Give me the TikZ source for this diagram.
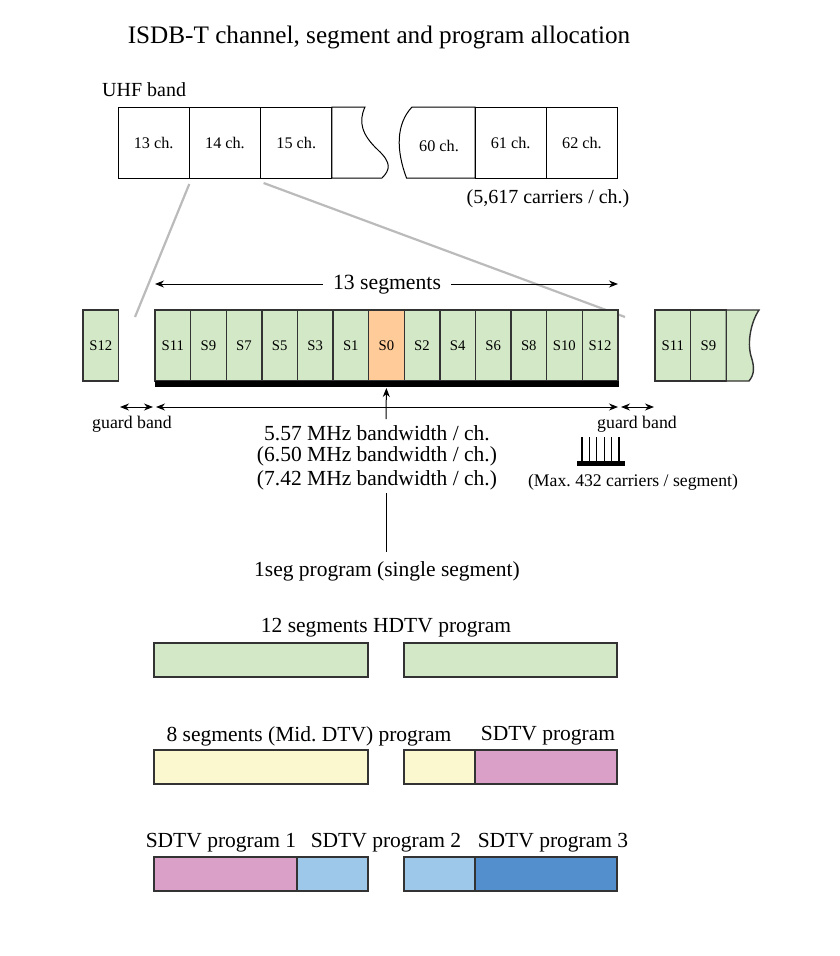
\documentclass[tikz,border=0pt]{standalone}
\usepackage{fontspec}
\setmainfont{Liberation Serif}
\usetikzlibrary{arrows.meta}
\definecolor{sgreen}{HTML}{D2E8C6}
\definecolor{sorange}{HTML}{FFCC99}
\definecolor{syellow}{HTML}{FBF8D0}
\definecolor{spink}{HTML}{DBA0C8}
\definecolor{slblue}{HTML}{9EC8EA}
\definecolor{sblue}{HTML}{538FCC}
\definecolor{bord}{HTML}{333333}
\definecolor{projgray}{HTML}{BBBBBB}
\frenchspacing
\tikzset{
  fs/.style={font=\fontsize{#1}{#1}\selectfont},
  txt/.style={inner sep=0pt, fs=#1},
  seg/.style={draw=bord, line width=1.4pt, fill=sgreen, minimum width=35.6pt, minimum height=71pt,
    inner sep=0pt, outer sep=0pt, anchor=north west, fs=14.7},
  chbox/.style={draw=black, line width=1pt, fill=white, minimum width=71.3pt, minimum height=71pt,
    inner sep=0pt, outer sep=0pt, anchor=north west, fs=16.2},
  prog/.style={draw=bord, line width=1.4pt, minimum height=34pt, inner sep=0pt, outer sep=0pt, anchor=north west},
  arr/.style={line width=1pt, -{Stealth[length=9pt,width=7pt]}},
  darr/.style={line width=1pt, {Stealth[length=9pt,width=7pt]}-{Stealth[length=9pt,width=7pt]}},
  proj/.style={draw=projgray, line width=2.2pt},
}
\begin{document}
\begin{tikzpicture}[x=1pt,y=-1pt]
\useasboundingbox (0,0) rectangle (840,956);
\fill[white] (0,0) rectangle (840,956);

% title
\node[txt=25.2] (title) at (379,37) {ISDB-T channel, segment and program allocation};
\node[txt=20, anchor=west] (uhf) at (102,90) {UHF band};

% UHF channels
\node[chbox] (ch13) at (118,107) {13 ch.};
\node[chbox] (ch14) at (189.3,107) {14 ch.};
\node[chbox] (ch15) at (260.6,107) {15 ch.};
\draw[line width=1pt, fill=white] (331.9,107) -- (365,107) .. controls (358,122) and (362,135) .. (378,150)
   .. controls (392,163) and (390,170) .. (382,178) -- (331.9,178) -- cycle;
\draw[line width=1pt, fill=white] (475,107) -- (412,107) .. controls (396,124) and (396,150) .. (406.5,178) -- (475,178) -- cycle;
\node[txt=16.2] (ch60) at (439,146) {60 ch.};
\node[chbox] (ch61) at (475,107) {61 ch.};
\node[chbox] (ch62) at (546.3,107) {62 ch.};
\node[txt=20] (carr) at (548,199) {(5,617 carriers / ch.)};

% projection lines
\coordinate (pl) at (135,317);
\coordinate (pr) at (625,317);
\draw[proj] ([shift={(0,6)}]ch14.south west) -- (pl);
\draw[proj] ([shift={(3,5)}]ch15.south west) -- (pr);

% 13 segments label
\node[txt=21.7, inner xsep=10pt] (seglbl) at (387,285) {13 segments};
\coordinate (sl) at (155,284);
\coordinate (sr) at (618,284);
\draw[arr] (seglbl.west |- sl) -- (sl);
\draw[arr] (seglbl.east |- sr) -- (sr);

% segments
\foreach \n [count=\i from 0] in {11,9,7,5,3,1,0,2,4,6,8,10,12} {
  \node[seg] (s\n) at ({155+\i*35.6},310) {S\n};
}
\node[seg, fill=sorange] at (s0.north west) {S0};
\fill[black] (155,381) rectangle (619,387);

\node[seg] (s12l) at (83,310) {S12};
\node[seg] (s11r) at (655,310) {S11};
\node[seg] (s9r) at (690.6,310) {S9};
\draw[draw=bord, line width=1.4pt, fill=sgreen] (726.2,310) -- (759,310) .. controls (751,322) and (747,342) .. (751,356)
  .. controls (755,368) and (754,375) .. (749,381) -- (726.2,381) -- cycle;

% bandwidth arrows
\coordinate (g1a) at (120,407);
\coordinate (g1b) at (153,407);
\coordinate (bwa) at (156,407);
\coordinate (bwb) at (618,407);
\coordinate (g2a) at (621,407);
\coordinate (g2b) at (654,407);
\draw[darr] (g1a) -- (g1b);
\draw[darr] (bwa) -- (bwb);
\draw[darr] (g2a) -- (g2b);
\node[txt=17.8] (gb1) at (132,424) {guard band};
\node[txt=17.8] (gb2) at (637,424) {guard band};

% bandwidth text
\node[txt=21.5] (bw1) at (377,433) {5.57 MHz bandwidth / ch.};
\node[txt=21.5] (bw2) at (377,456) {(6.50 MHz bandwidth / ch.)};
\node[txt=21.5] (bw3) at (377,480) {(7.42 MHz bandwidth / ch.)};

% 1seg arrow
\node[txt=21.5] (oneseg) at (387,571) {1seg program (single segment)};
\coordinate (up1) at (386,419);
\draw[arr] (up1) -- (s0.south |- 0,388);
\coordinate (lt) at (386,493);
\coordinate (lb) at (386,552);
\draw[line width=1pt] (lt) -- (lb);

% carriers icon
\foreach \x in {582,589.4,596.8,604.2,611.6,619} {
  \draw[line width=1.1pt] (\x,437) -- (\x,462);
}
\fill[black] (577,460.5) rectangle (625,465.5);
\node[txt=17.7] (maxc) at (633,482) {(Max. 432 carriers / segment)};

% 12 segments HDTV
\node[txt=21.5] (hdtv) at (386,628) {12 segments HDTV program};
\node[prog, fill=sgreen, minimum width=214pt] (h1) at (154,643) {};
\node[prog, fill=sgreen, minimum width=213pt] (h2) at (404,643) {};

% 8 segments
\node[txt=21.5] (mid) at (309,736) {8 segments (Mid. DTV) program};
\node[txt=21.5] (sd) at (548,736) {SDTV program};
\node[prog, fill=syellow, minimum width=214pt] (m1) at (154,750) {};
\node[prog, fill=syellow, minimum width=71pt] (m2) at (404,750) {};
\node[prog, fill=spink, minimum width=142pt] (m3) at (475,750) {};

% 3 SDTV
\node[txt=21.5] (sd1) at (221,843) {SDTV program 1};
\node[txt=21.5] (sd2) at (386,843) {SDTV program 2};
\node[txt=21.5] (sd3) at (553,843) {SDTV program 3};
\node[prog, fill=spink, minimum width=143pt] (p1) at (154,857) {};
\node[prog, fill=slblue, minimum width=71pt] (p2) at (297,857) {};
\node[prog, fill=slblue, minimum width=71pt] (p3) at (404,857) {};
\node[prog, fill=sblue, minimum width=142pt] (p4) at (475,857) {};
\end{tikzpicture}
\end{document}
